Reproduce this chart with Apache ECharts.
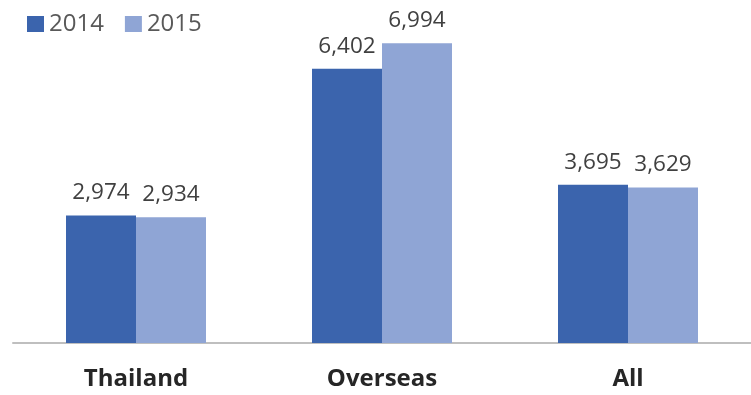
<!DOCTYPE html>
<html><head><meta charset="utf-8">
<script src="https://cdn.jsdelivr.net/npm/echarts@6/dist/echarts.min.js"></script>
<style>html,body{margin:0;padding:0;background:#fff}#c{width:751px;height:395px}</style>
</head><body><div id="c"></div>
<script>
const categories = ["Thailand", "Overseas", "All"];
const seriesNames = ["2014", "2015"];
const values2014 = [2974, 6402, 3695];
const values2015 = [2934, 6994, 3629];

const chart = echarts.init(document.getElementById('c'), null, {renderer: 'canvas'});
const fmt = p => p.value.toLocaleString('en-US');
const lbl = {show: true, position: 'top', distance: 11, formatter: fmt, color: '#404040', fontSize: 22.5, fontFamily: 'Open Sans'};
chart.setOption({
  animation: false,
  legend: {
    left: 22, top: 7, itemWidth: 17, itemHeight: 16, itemGap: 21,
    icon: 'rect',
    textStyle: {fontSize: 24, color: '#595959', fontFamily: 'Open Sans'},
    data: seriesNames
  },
  grid: {left: 13, right: -3, top: 43, bottom: 52},
  xAxis: {
    type: 'category', data: categories,
    axisLine: {lineStyle: {color: '#bfbfbf', width: 2}},
    axisTick: {show: false},
    axisLabel: {fontSize: 24, fontWeight: 'bold', color: '#262626', margin: 24, fontFamily: 'Open Sans'}
  },
  yAxis: {type: 'value', min: 0, max: 7000, show: false, splitLine: {show: false}},
  series: [
    {name: seriesNames[0], type: 'bar', data: values2014, barWidth: 70, barGap: '0%', itemStyle: {color: '#3B64AD'}, label: lbl},
    {name: seriesNames[1], type: 'bar', data: values2015, barWidth: 70, itemStyle: {color: '#8FA5D5'}, label: lbl}
  ]
});
</script></body></html>
